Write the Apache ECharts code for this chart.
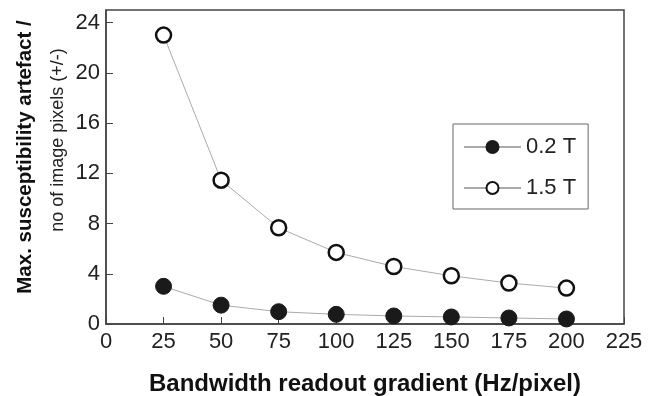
<!DOCTYPE html>
<html>
<head>
<meta charset="utf-8">
<script src="https://cdn.jsdelivr.net/npm/echarts@6/dist/echarts.min.js"></script>
<style>
  html, body { margin: 0; padding: 0; background: #fff; }
  #chart { width: 657px; height: 396px; }
</style>
</head>
<body>
<div id="chart"></div>
<script>
// bandwidth (Hz/pixel)
const bandwidth = [25, 50, 75, 100, 125, 150, 175, 200];
// max artefact in pixels
const field02 = [3.0, 1.5, 0.98, 0.77, 0.64, 0.56, 0.48, 0.4];
const field15 = [23.0, 11.45, 7.66, 5.7, 4.58, 3.84, 3.26, 2.86];
const seriesNames = ["0.2 T", "1.5 T"];

const font = "'Liberation Sans', Arial, sans-serif";
const chart = echarts.init(document.getElementById("chart"));

const pair = (ys) => bandwidth.map((x, i) => [x, ys[i]]);

chart.setOption({
  animation: false,
  textStyle: { fontFamily: font },
  grid: {
    left: 106, right: 33, top: 10, bottom: 72,
    containLabel: false, outerBoundsMode: "none",
    show: true, borderColor: "#444", borderWidth: 1.5,
  },
  xAxis: {
    type: "value", min: 0, max: 225, interval: 25,
    axisLine: { lineStyle: { color: "#444", width: 1.5 } },
    axisTick: { inside: true, length: 7, lineStyle: { color: "#444" } },
    axisLabel: { color: "#222", fontSize: 22, margin: 7, fontFamily: font },
    splitLine: { show: false },
    name: "Bandwidth readout gradient (Hz/pixel)",
    nameLocation: "middle", nameGap: 48,
    nameTextStyle: { fontSize: 24, fontWeight: "bold", color: "#111", fontFamily: font },
  },
  yAxis: {
    type: "value", min: 0, max: 25, interval: 4,
    axisLine: { lineStyle: { color: "#444", width: 1.5 } },
    axisTick: { inside: true, length: 7, lineStyle: { color: "#444" } },
    axisLabel: { color: "#222", fontSize: 22, margin: 6, showMaxLabel: false, fontFamily: font },
    splitLine: { show: false },
  },
  legend: {
    orient: "vertical",
    left: 453, top: 124,
    itemWidth: 57, itemHeight: 15, itemGap: 19,
    padding: [12, 12, 10, 10],
    borderColor: "#666", borderWidth: 1,
    textStyle: { fontSize: 22, color: "#222", fontFamily: font },
    data: seriesNames,
  },
  graphic: [
    {
      type: "text", x: 25, y: 157, rotation: Math.PI / 2,
      style: {
        text: "Max. susceptibility artefact /",
        font: "bold 20.5px " + font, fill: "#111",
        textAlign: "center", textVerticalAlign: "middle",
      },
    },
    {
      type: "text", x: 58, y: 140, rotation: Math.PI / 2,
      style: {
        text: "no of image pixels (+/-)",
        font: "18px " + font, fill: "#222",
        textAlign: "center", textVerticalAlign: "middle",
      },
    },
  ],
  series: [
    {
      name: seriesNames[0], type: "line", data: pair(field02),
      symbol: "circle", symbolSize: 16,
      lineStyle: { color: "#aaa", width: 1 },
      itemStyle: { color: "#1a1a1a", borderColor: "#1a1a1a", borderWidth: 1 },
      z: 3,
    },
    {
      name: seriesNames[1], type: "line", data: pair(field15),
      symbol: "circle", symbolSize: 15,
      lineStyle: { color: "#aaa", width: 1 },
      itemStyle: { color: "#fff", borderColor: "#111", borderWidth: 2.5 },
      z: 3,
    },
  ],
});
</script>
</body>
</html>
